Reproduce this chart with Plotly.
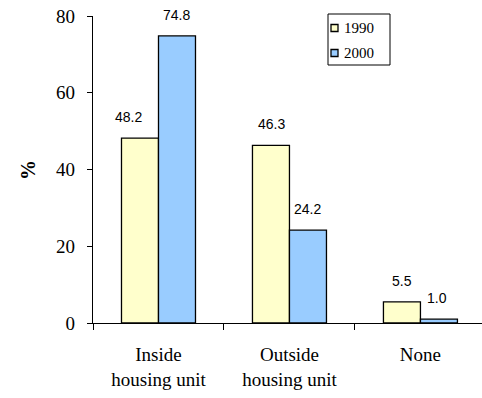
import plotly.graph_objects as go

categories = ["Inside<br>housing unit", "Outside<br>housing unit", "None"]
years = ["1990", "2000"]
values_1990 = [48.2, 46.3, 5.5]
values_2000 = [74.8, 24.2, 1.0]
y_ticks = [0, 20, 40, 60, 80]

colors = {"1990": "#FFFFCC", "2000": "#99CCFF"}
label_xshift = {"1990": [-12, 0, 0], "2000": [0, 0, -2]}

W, H = 482, 398
L, R, T, B = 93, 0, 16, 75
PW, PH = W - L - R, H - T - B

SERIF = "Liberation Serif, Times New Roman, serif"
SANS = "Liberation Sans, Arial, sans-serif"


def px(x):
    return (x - L) / PW


def py(y):
    return (H - B - y) / PH


fig = go.Figure()
for year, vals in zip(years, [values_1990, values_2000]):
    fig.add_trace(go.Bar(
        name=year, x=categories, y=vals, showlegend=False,
        marker=dict(color=colors[year], line=dict(color="black", width=1.3)),
    ))

annotations = []
# value labels above each bar
for i, (year, vals) in enumerate(zip(years, [values_1990, values_2000])):
    for j, v in enumerate(vals):
        annotations.append(dict(
            x=j + (-0.14 if i == 0 else 0.14), y=v, xref="x", yref="y",
            text=f"{v:.1f}", showarrow=False, yshift=21,
            xshift=label_xshift[year][j],
            font=dict(family=SANS, size=14, color="black"),
        ))

# y-axis title
annotations.append(dict(
    x=px(28), y=py(170), xref="paper", yref="paper", text="<b>%</b>",
    showarrow=False, xanchor="center", yanchor="middle", textangle=-90,
    font=dict(family=SERIF, size=20, color="black"),
))

# legend box with small square swatches
shapes = [dict(type="rect", xref="paper", yref="paper",
               x0=px(328), x1=px(390), y0=py(65), y1=py(14),
               line=dict(color="black", width=1), fillcolor="white")]
for k, year in enumerate(years):
    cy = 28 + 25 * k
    shapes.append(dict(type="rect", xref="paper", yref="paper",
                       x0=px(331), x1=px(338), y0=py(cy + 3.5), y1=py(cy - 3.5),
                       line=dict(color="black", width=1.3), fillcolor=colors[year]))
    annotations.append(dict(
        x=px(342), y=py(cy), xref="paper", yref="paper", text=year,
        showarrow=False, xanchor="left", yanchor="middle",
        font=dict(family=SERIF, size=15, color="black"),
    ))

fig.update_layout(
    width=W, height=H,
    margin=dict(l=L, r=R, t=T, b=B),
    paper_bgcolor="white", plot_bgcolor="white",
    barmode="group", bargap=0.435, bargroupgap=0,
    font=dict(family=SERIF, size=19, color="black"),
    showlegend=False,
    annotations=annotations,
    shapes=shapes,
)

fig.update_xaxes(
    type="category", range=[-0.5, 2.47],
    showline=True, linecolor="black", linewidth=1.3,
    ticks="outside", tickson="boundaries", ticklen=6, tickcolor="black", tickwidth=1.3,
    showgrid=False, zeroline=False, ticklabelstandoff=14,
    tickfont=dict(family=SERIF, size=19),
)
fig.update_yaxes(
    range=[0, 80], tickvals=y_ticks,
    showline=True, linecolor="black", linewidth=1.3,
    ticks="outside", ticklen=5, tickcolor="black", tickwidth=1.3,
    showgrid=False, zeroline=False, ticklabelstandoff=8,
    tickfont=dict(family=SERIF, size=19),
)

fig.write_html("out.html")
